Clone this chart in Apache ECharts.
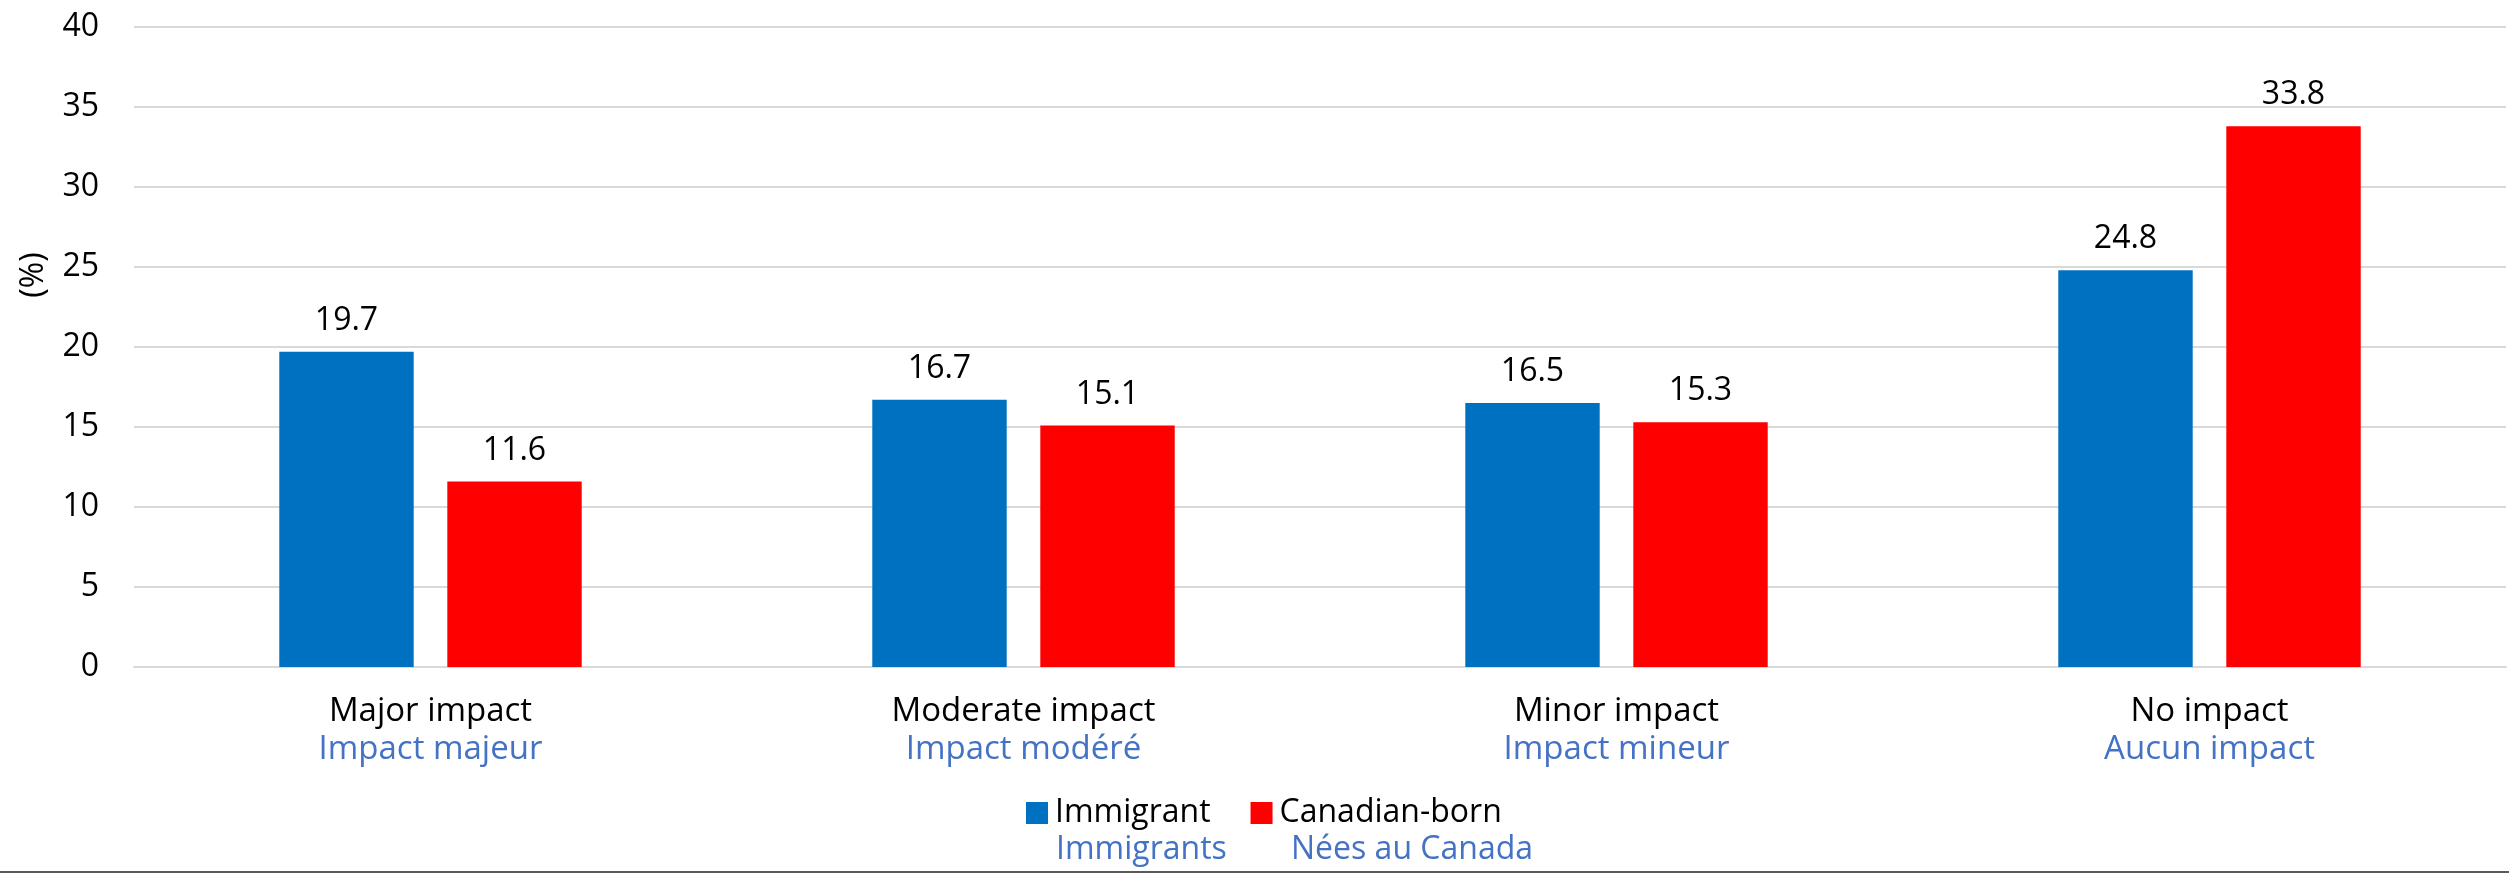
<!DOCTYPE html>
<html>
<head>
<meta charset="utf-8">
<script src="https://cdn.jsdelivr.net/npm/echarts@6/dist/echarts.min.js"></script>
<style>
html,body{margin:0;padding:0;background:#fff;}
#chart{width:2509px;height:873px;}
</style>
</head>
<body>
<div id="chart"></div>
<script>
const categoriesEn = ['Major impact', 'Moderate impact', 'Minor impact', 'No impact'];
const categoriesFr = ['Impact majeur', 'Impact modéré', 'Impact mineur', 'Aucun impact'];
const immigrant = [19.7, 16.7, 16.5, 24.8];
const canadianBorn = [11.6, 15.1, 15.3, 33.8];
const seriesNamesEn = ['Immigrant', 'Canadian-born'];
const seriesNamesFr = ['Immigrants', 'Nées au Canada'];
const yTicks = [0, 5, 10, 15, 20, 25, 30, 35, 40];

const FONT = 'Open Sans';
const FR_COLOR = '#4472C4';
const chart = echarts.init(document.getElementById('chart'), null, {renderer: 'canvas'});

const labelOpt = {
  show: true, position: 'top', distance: 15,
  color: '#000', fontFamily: FONT, fontSize: 32,
  formatter: p => p.value.toFixed(1)
};

chart.setOption({
  animation: false,
  backgroundColor: '#fff',
  grid: {left: 134, right: 3, top: 27, bottom: 206, containLabel: false},
  legend: {
    data: seriesNamesEn,
    left: 1021, top: 792,
    itemWidth: 22, itemHeight: 22, itemGap: 40,
    icon: 'rect',
    textStyle: {color: '#000', fontFamily: FONT, fontSize: 32, padding: [0, 0, 0, 2]}
  },
  xAxis: {
    type: 'category',
    data: categoriesEn,
    axisLine: {show: true, lineStyle: {color: '#d9d9d9', width: 2}},
    axisTick: {show: false},
    axisLabel: {
      margin: 26,
      formatter: (v, i) => '{en|' + v + '}\n{fr|' + categoriesFr[i] + '}',
      rich: {
        en: {color: '#000', fontFamily: FONT, fontSize: 33, lineHeight: 38},
        fr: {color: FR_COLOR, fontFamily: FONT, fontSize: 33, lineHeight: 38}
      }
    }
  },
  yAxis: {
    type: 'value',
    min: yTicks[0], max: yTicks[yTicks.length - 1], interval: 5,
    axisLine: {show: false},
    axisTick: {show: false},
    splitLine: {lineStyle: {color: '#d9d9d9', width: 2}},
    axisLabel: {color: '#000', fontFamily: FONT, fontSize: 32, margin: 35}
  },
  series: [
    {name: seriesNamesEn[0], type: 'bar', data: immigrant,
     itemStyle: {color: '#0070C0'}, barGap: '25%', barCategoryGap: '49%', label: labelOpt},
    {name: seriesNamesEn[1], type: 'bar', data: canadianBorn,
     itemStyle: {color: '#FF0000'}, barGap: '25%', barCategoryGap: '49%', label: labelOpt}
  ],
  graphic: [
    {type: 'text', x: 34, y: 275, rotation: Math.PI / 2,
     style: {text: '(%)', fill: '#000', font: '32px "Open Sans"', align: 'center', verticalAlign: 'middle'}},
    {type: 'text', x: 1056, y: 850,
     style: {text: seriesNamesFr[0], fill: FR_COLOR, font: '32px "Open Sans"', align: 'left', verticalAlign: 'middle'}},
    {type: 'text', x: 1291, y: 850,
     style: {text: seriesNamesFr[1], fill: FR_COLOR, font: '32px "Open Sans"', align: 'left', verticalAlign: 'middle'}},
    {type: 'rect', shape: {x: 0, y: 871, width: 2509, height: 2}, style: {fill: '#595959'}}
  ]
});
</script>
</body>
</html>
